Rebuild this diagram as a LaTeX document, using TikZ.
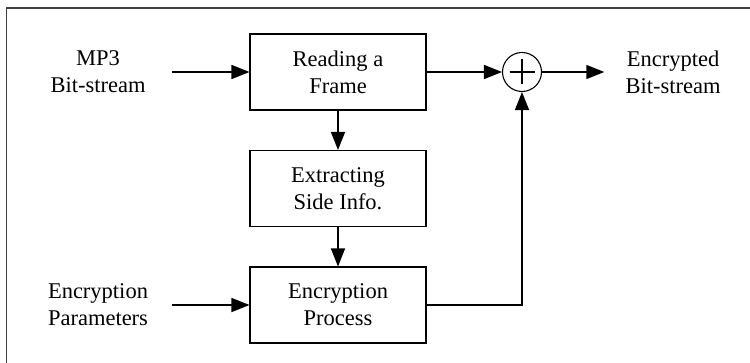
\documentclass[tikz,border=0pt]{standalone}
\usepackage{fontspec}
\setmainfont{Liberation Serif}
\usetikzlibrary{arrows.meta}

\begin{document}
\begin{tikzpicture}[>={Triangle[length=18pt,width=14pt]}, node distance=116.5pt]
    \tikzstyle{box}=[rectangle,draw,line width=1.1pt,align=center,minimum width=176pt,minimum height=76pt,font=\fontsize{22.5}{27}\selectfont]
    \tikzstyle{label}=[align=center,inner ysep=0pt,font=\fontsize{22.5}{27}\selectfont]
    \tikzstyle{link}=[->,line width=1.4pt]
    \useasboundingbox (0,0) rectangle (750pt,363pt);
    % frame
    \draw[line width=1.6pt,black!75] (6.5pt,0) |- (750pt,355pt);
    \node[box] (reading) at (338pt,291pt) {Reading a\\Frame};
    \node[box,below of=reading] (extract) {Extracting\\Side Info.};
    \node[box,below of=extract] (encrypt) {Encryption\\Process};
    \node[label,inner xsep=26pt,left of=reading,node distance=240pt] (mp3) {MP3\\Bit-stream};
    \node[label,inner xsep=24pt,left of=encrypt,node distance=240pt] (params) {Encryption\\Parameters};
    \node[circle,draw,line width=1.1pt,minimum size=39pt,inner sep=0pt,right of=reading,node distance=184pt] (sum) {};
    \draw[line width=1.1pt] (sum.center) ++(-12.5pt,0) -- ++(25pt,0);
    \draw[line width=1.1pt] (sum.center) ++(0,-12.5pt) -- ++(0,25pt);
    \node[label,inner xsep=21pt,right of=reading,node distance=335pt] (out) {Encrypted\\Bit-stream};
    \draw[link] (mp3) -- (reading);
    \draw[link] (params) -- (encrypt);
    \draw[link] (reading) -- (extract);
    \draw[link] (extract) -- (encrypt);
    \draw[link] (reading) -- (sum);
    \draw[link] (encrypt) -| (sum);
    \draw[link] (sum) -- (out);
\end{tikzpicture}
\end{document}
